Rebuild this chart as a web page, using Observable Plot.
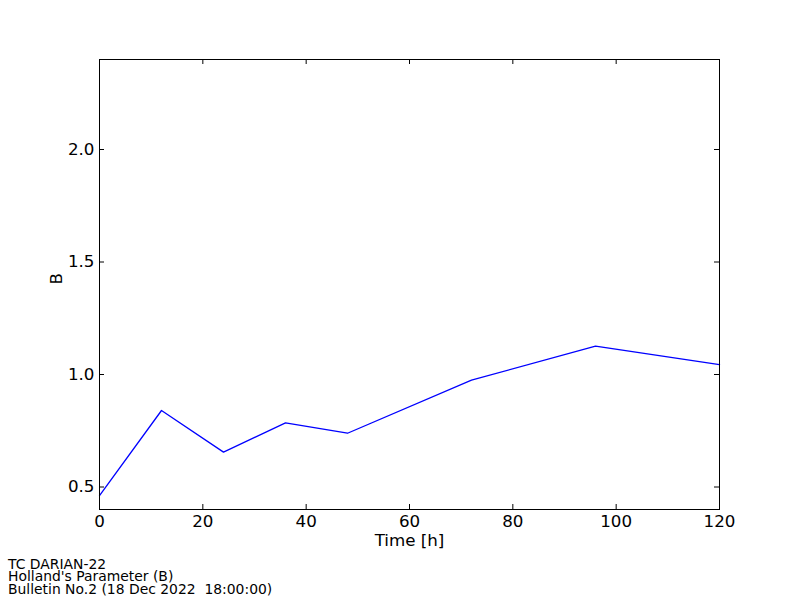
<!DOCTYPE html>
<html>
<head>
<meta charset="utf-8">
<script src="https://cdn.jsdelivr.net/npm/d3@7"></script>
<script src="https://cdn.jsdelivr.net/npm/@observablehq/plot@0.6"></script>
<style>
  body { margin: 0; background: #fff; font-family: "DejaVu Sans", sans-serif; }
  #wrap { position: relative; width: 800px; height: 600px; overflow: hidden; }
  #cap { position: absolute; left: 8px; top: 558px; font-size: 13.9px; line-height: 12.3px; color: #000; white-space: pre; }
</style>
</head>
<body>
<div id="wrap">
  <div id="chart"></div>
  <div id="cap"></div>
</div>
<script>
// Data
const hours = [0, 12, 24, 36, 48, 72, 96, 120];
const bValues = [0.462, 0.840, 0.655, 0.785, 0.739, 0.975, 1.126, 1.044];
const xTicks = [0, 20, 40, 60, 80, 100, 120];
const yTicks = [0.5, 1.0, 1.5, 2.0];
const xLabel = "Time [h]";
const yLabel = "B";
const captionLines = ["TC DARIAN-22", "Holland's Parameter (B)", "Bulletin No.2 (18 Dec 2022  18:00:00)"];

const data = hours.map((h, i) => ({hour: h, b: bValues[i]}));

const W = 800, H = 600;
const mL = 99, mR = 81, mT = 59, mB = 91;
const fw = W - mL - mR, fh = H - mT - mB;
const tl = 5;
const fs = 16.7;

const chart = Plot.plot({
  width: W,
  height: H,
  marginLeft: mL,
  marginRight: mR,
  marginTop: mT,
  marginBottom: mB,
  style: {fontFamily: "DejaVu Sans", fontSize: fs + "px", color: "#000", background: "#fff"},
  x: {domain: [0, 120], ticks: xTicks, label: null},
  y: {domain: [0.4, 2.4], ticks: yTicks, label: null},
  marks: [
    Plot.axisX({ticks: xTicks, tickSize: 0, tickPadding: 6, label: null, tickFormat: d3.format("d"), fontSize: fs}),
    Plot.axisY({ticks: yTicks, tickSize: 0, tickPadding: 5, label: null, tickFormat: d3.format(".1f"), fontSize: fs}),
    // inward ticks on all four sides
    Plot.tickX(xTicks, {x: d => d, insetTop: fh - tl, stroke: "black"}),
    Plot.tickX(xTicks, {x: d => d, insetBottom: fh - tl, stroke: "black"}),
    Plot.tickY(yTicks, {y: d => d, insetRight: fw - tl, stroke: "black"}),
    Plot.tickY(yTicks, {y: d => d, insetLeft: fw - tl, stroke: "black"}),
    Plot.line(data, {x: "hour", y: "b", stroke: "#0000ff", strokeWidth: 1.3}),
    Plot.frame({stroke: "black", strokeWidth: 1}),
    Plot.text([xLabel], {text: d => d, frameAnchor: "bottom", dy: 31.4, fontSize: fs, lineAnchor: "middle", fill: "black"}),
    Plot.text([yLabel], {text: d => d, frameAnchor: "left", dx: -42.5, rotate: -90, fontSize: fs, lineAnchor: "middle", fill: "black"})
  ]
});
document.getElementById("chart").appendChild(chart);
document.getElementById("cap").textContent = captionLines.join("\n");
</script>
</body>
</html>
